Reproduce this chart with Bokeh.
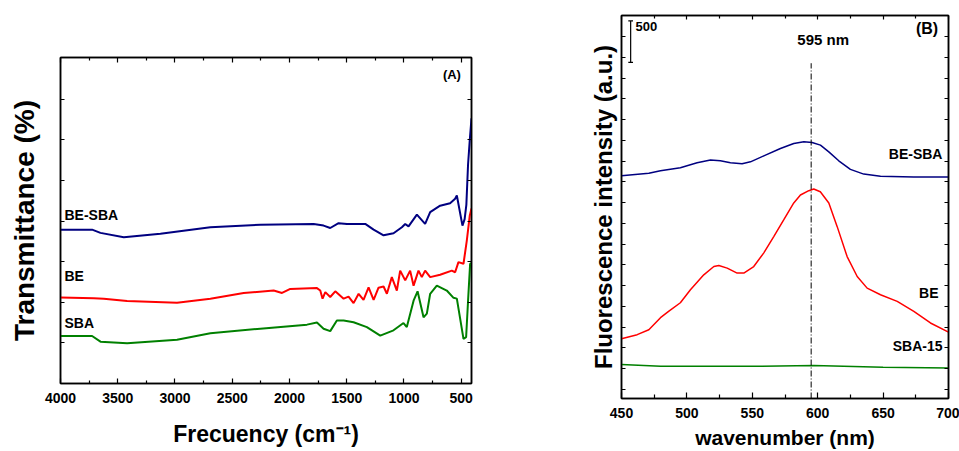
from bokeh.plotting import figure
from bokeh.models import Range1d, LinearAxis, FixedTicker, CustomJSTickFormatter, Label
from bokeh.layouts import row
from bokeh.embed import file_html
from bokeh.resources import INLINE
from bokeh.core.properties import value

FONT = "Liberation Sans"

# ---------------- Panel A data (FTIR, arbitrary transmittance units) ----------------
a_freq_besba = [4000, 3724, 3651, 3447, 3127, 2691, 2255, 1789, 1702, 1644, 1571, 1498, 1338,
                1265, 1178, 1091, 1018, 989, 960, 887, 815, 771, 684, 597, 553, 538, 489,
                470, 455, 440, 425, 410]
a_besba = [37.9, 37.9, 37.1, 36.0, 36.9, 38.5, 39.1, 39.3, 38.9, 38.3, 39.5, 39.3, 39.3,
           37.9, 36.5, 37.0, 38.5, 39.3, 38.7, 41.6, 39.3, 42.2, 43.8, 44.4, 45.5, 46.3, 38.9,
           40.5, 44.0, 54.0, 60.0, 65.3]

a_freq_be = [4000, 3709, 3622, 3418, 2982, 2691, 2400, 2138, 2065, 1993, 1760, 1731, 1711,
             1687, 1644, 1600, 1527, 1484, 1440, 1396, 1353, 1309, 1265, 1222, 1178, 1149,
             1106, 1062, 1033, 989, 946, 916, 873, 844, 815, 771, 684, 582, 553, 524, 480,
             451, 425, 410]
a_be = [21.2, 21.0, 20.9, 20.3, 19.9, 20.9, 22.3, 22.9, 22.3, 23.3, 23.5, 22.9, 20.9,
        22.5, 21.3, 22.7, 20.9, 21.4, 19.8, 22.1, 20.6, 23.7, 20.6, 23.6, 23.9, 22.1,
        26.2, 22.9, 27.8, 25.4, 27.8, 24.1, 27.8, 26.2, 27.8, 26.2, 26.8, 27.8, 27.4, 29.9, 29.5,
        35.2, 41.4, 43.1]

a_freq_sba = [4000, 3724, 3651, 3418, 2982, 2691, 2255, 1847, 1760, 1702, 1644, 1586, 1527,
              1440, 1324, 1207, 1091, 1004, 975, 916, 881, 829, 800, 771, 713, 626, 567, 538,
              480, 457, 440, 422, 410]
a_sba = [11.7, 11.7, 10.3, 9.9, 10.8, 12.4, 13.5, 14.5, 15.0, 13.5, 12.9, 15.5, 15.5,
         15.1, 13.9, 11.8, 13.1, 14.9, 13.9, 20.4, 22.7, 16.3, 17.2, 22.1, 24.1, 22.9, 21.1, 20.9,
         11.0, 11.4, 20.4, 29.5, 29.6]

a_xticks = [4000, 3500, 3000, 2500, 2000, 1500, 1000, 500]
a_xminor = [3750, 3250, 2750, 2250, 1750, 1250, 750]
a_yticks = [10, 20, 30, 40, 50, 60, 70]

# ---------------- Panel B data (fluorescence, a.u.) ----------------
b_wl_besba = [450.0, 470.9, 479.8, 495.0, 507.8, 518.0, 525.6, 533.3, 542.2, 548.6, 558.8,
              571.5, 581.7, 589.4, 595.7, 602.1, 608.5, 616.1, 625.0, 635.2, 648.0, 673.5, 700.0]
b_besba = [2824, 2853, 2884, 2920, 2980, 3013, 3004, 2980, 2968, 2992, 3064,
           3153, 3213, 3233, 3225, 3193, 3112, 3004, 2901, 2844, 2817, 2808, 2808]

b_wl_be = [450.0, 462.0, 470.9, 479.8, 486.0, 495.0, 502.7, 512.9, 520.6, 524.4, 530.8, 538.4,
           543.5, 551.1, 558.8, 566.4, 574.0, 581.7, 586.8, 593.2, 597.0, 602.0, 608.5, 614.9,
           622.5, 630.2, 637.8, 648.0, 660.8, 673.5, 686.2, 700.0]
b_be = [861, 909, 969, 1114, 1189, 1294, 1450, 1630, 1730, 1742, 1711, 1651,
        1651, 1730, 1895, 2091, 2291, 2496, 2592, 2644, 2664, 2632, 2496, 2211,
        1850, 1610, 1470, 1390, 1310, 1189, 1050, 940]

b_wl_sba = [450, 480, 550, 597, 650, 700]
b_sba = [549, 528, 528, 537, 516, 509]

b_xticks = [450, 500, 550, 600, 650, 700]
b_xminor = [475, 525, 575, 625, 675]
b_yticks = list(range(250, 4751, 250))
b_peak = 595
b_scale = 500

BLUE = "#000080"
RED = "#ff0000"
GREEN = "#008000"


def style_axis(ax, major_in, minor_in, labels=True, size="14px"):
    ax.axis_line_color = "black"
    ax.axis_line_width = 1.5
    ax.major_tick_line_color = "black"
    ax.major_tick_line_width = 1.2
    ax.minor_tick_line_color = "black"
    ax.minor_tick_line_width = 1.2
    ax.major_tick_in = major_in
    ax.major_tick_out = 0
    ax.minor_tick_in = minor_in
    ax.minor_tick_out = 0
    ax.major_label_text_font = FONT
    ax.major_label_text_font_style = "bold"
    ax.major_label_text_font_size = size
    ax.major_label_text_color = "black"
    if not labels:
        ax.formatter = CustomJSTickFormatter(code="return ''")
        ax.major_label_standoff = 0


def style_title(ax, text, size, standoff):
    ax.axis_label = text
    ax.axis_label_text_font = FONT
    ax.axis_label_text_font_style = "bold"
    ax.axis_label_text_font_size = size
    ax.axis_label_text_color = "black"
    ax.axis_label_standoff = standoff


def txt_label(x, y, text, size, align="left", baseline="middle"):
    return Label(x=x, y=y, text=text, text_font=FONT, text_font_style="bold",
                 text_font_size=size, text_align=align, text_baseline=baseline,
                 text_color="black")


# ---------------- Panel A ----------------
pa = figure(width=540, height=451, x_range=Range1d(4000, 410), y_range=Range1d(0, 80.3),
            output_backend="svg", toolbar_location=None,
            min_border_left=60, min_border_right=69, min_border_top=57, min_border_bottom=68)
pa.frame_align = False
pa.grid.visible = False
pa.outline_line_color = "black"
pa.outline_line_width = 1.5
pa.background_fill_color = "white"
pa.border_fill_color = "white"

pa.xaxis.ticker = FixedTicker(ticks=a_xticks, minor_ticks=a_xminor)
style_axis(pa.xaxis[0], 5, 3)
pa.xaxis.major_label_standoff = 9
style_title(pa.xaxis[0], "Frecuency (cm\u207b\u00b9)", "23px", 15)

pa.yaxis.ticker = FixedTicker(ticks=a_yticks, minor_ticks=[])
style_axis(pa.yaxis[0], 4, 0, labels=False)
style_title(pa.yaxis[0], "Transmittance (%)", "28px", 21)

ra = LinearAxis(ticker=FixedTicker(ticks=a_yticks, minor_ticks=[]))
style_axis(ra, 4, 0, labels=False)
pa.add_layout(ra, "right")
ta = LinearAxis(ticker=FixedTicker(ticks=a_xticks, minor_ticks=a_xminor))
style_axis(ta, 5, 3, labels=False)
ta.major_label_text_font_size = "0px"
pa.add_layout(ta, "above")

pa.line(a_freq_besba, a_besba, line_color=BLUE, line_width=2)
pa.line(a_freq_be, a_be, line_color=RED, line_width=2)
pa.line(a_freq_sba, a_sba, line_color=GREEN, line_width=2)

for txt, yv in [("BE-SBA", 41.6), ("BE", 26.6), ("SBA", 15.0)]:
    pa.add_layout(txt_label(3965, yv, txt, "14px"))
pa.add_layout(txt_label(581, 76.1, "(A)", "13px", align="center"))

# ---------------- Panel B ----------------
pb = figure(width=419, height=451, x_range=Range1d(450, 700), y_range=Range1d(140, 4755),
            output_backend="svg", toolbar_location=None,
            min_border_left=81, min_border_right=11, min_border_top=15, min_border_bottom=52)
pb.frame_align = False
pb.grid.visible = False
pb.outline_line_color = "black"
pb.outline_line_width = 1.5
pb.background_fill_color = "white"
pb.border_fill_color = "white"

pb.xaxis.ticker = FixedTicker(ticks=b_xticks, minor_ticks=b_xminor)
style_axis(pb.xaxis[0], 6, 4)
pb.xaxis.major_label_standoff = 9
style_title(pb.xaxis[0], "wavenumber (nm)", "21px", 5)

pb.yaxis.ticker = FixedTicker(ticks=b_yticks, minor_ticks=[])
style_axis(pb.yaxis[0], 4, 0, labels=False)
style_title(pb.yaxis[0], "Fluorescence intensity (a.u.)", "24px", 5)

rb = LinearAxis(ticker=FixedTicker(ticks=b_yticks, minor_ticks=[]))
style_axis(rb, 4, 0, labels=False)
pb.add_layout(rb, "right")
tb = LinearAxis(ticker=FixedTicker(ticks=b_xticks, minor_ticks=b_xminor))
style_axis(tb, 4, 3, labels=False)
tb.major_label_text_font_size = "0px"
pb.add_layout(tb, "above")

pb.line(b_wl_besba, b_besba, line_color=BLUE, line_width=1.5)
pb.line(b_wl_be, b_be, line_color=RED, line_width=1.5)
pb.line(b_wl_sba, b_sba, line_color=GREEN, line_width=1.5)

# 595 nm marker line
pb.segment(x0=[b_peak], y0=[140], x1=[b_peak], y1=[4180], line_color="black",
           line_width=1, line_dash="6 2 1 2")
pb.add_layout(txt_label(604.2, 4463, "%d nm" % b_peak, "15px", align="center"))

# scale bar (500 a.u.)
sb_x, sb_y0 = 457, 4190
pb.segment(x0=[sb_x], y0=[sb_y0], x1=[sb_x], y1=[sb_y0 + b_scale], line_color="black", line_width=1.2)
pb.segment(x0=[sb_x - 1.8, sb_x - 1.8], y0=[sb_y0, sb_y0 + b_scale],
           x1=[sb_x + 1.8, sb_x + 1.8], y1=[sb_y0, sb_y0 + b_scale], line_color="black", line_width=1.2)
pb.add_layout(txt_label(460.7, 4623, "%d" % b_scale, "13px"))

for txt, xv, yv in [("BE-SBA", 695.4, 3085), ("BE", 692.4, 1414), ("SBA-15", 695.4, 777)]:
    pb.add_layout(txt_label(xv, yv, txt, "14px", align="right"))

pb.text(x=[683.6], y=[4600], text=["(B)"], text_font=value(FONT), text_font_style="bold",
        text_font_size="16px", text_align="center", text_baseline="alphabetic", text_color="black")

layout = row(pa, pb)
open("out.html", "w").write(file_html(layout, INLINE))
